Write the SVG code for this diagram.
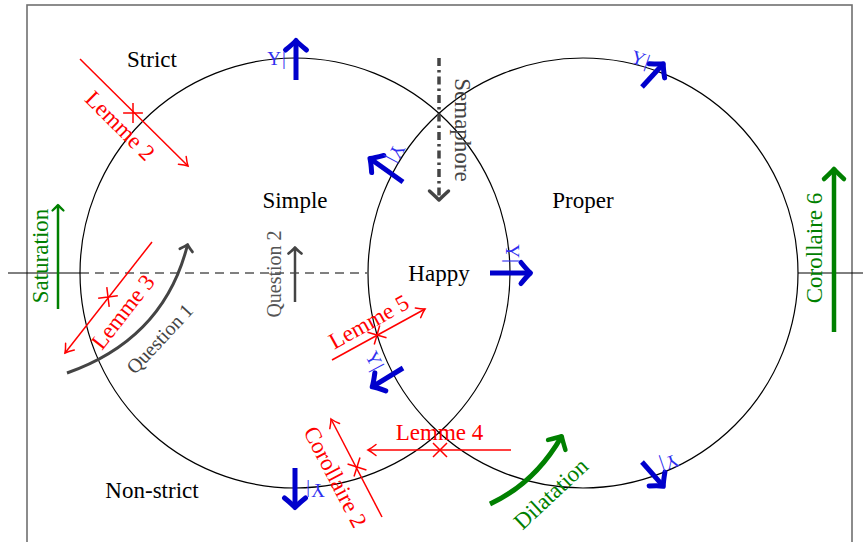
<svg xmlns="http://www.w3.org/2000/svg" xmlns:xlink="http://www.w3.org/1999/xlink" width="863" height="542" viewBox="0 0 863 542">
<style>
.lbl{font-family:"Liberation Serif","Times New Roman",serif;font-size:23px;fill:#000}
.red{fill:#ff0000}
.grn{fill:#008000}
.gry{fill:#444}
.gq{font-size:20px}
.tag{font-family:"Liberation Serif","DejaVu Serif",serif;font-size:19px;fill:#3030f0;letter-spacing:1px}
.circ{fill:none;stroke:#000;stroke-width:1.2}
.rl{fill:none;stroke:#ff0000;stroke-width:1.5}
.bl{fill:none;stroke:#0000cc;stroke-width:5;marker-end:url(#mBlue)}
.cr{fill:none;stroke:#ff0000;stroke-width:1.5}
</style>
<defs>
<marker id="mBlue" markerUnits="userSpaceOnUse" viewBox="-20 -20 40 40" markerWidth="40" markerHeight="40" refX="0" refY="0" orient="auto">
<path d="M-9.5,-10.5 Q-3,-2.5 0,0 Q-3,2.5 -9.5,10.5" fill="none" stroke="#0000cc" stroke-width="5" stroke-linecap="round" stroke-linejoin="round"/>
</marker>
<marker id="mGreenL" markerUnits="userSpaceOnUse" viewBox="-20 -20 40 40" markerWidth="40" markerHeight="40" refX="0" refY="0" orient="auto">
<path d="M-10,-10 Q-3,-2.5 0,0 Q-3,2.5 -10,10" fill="none" stroke="#008000" stroke-width="4.5" stroke-linecap="round" stroke-linejoin="round"/>
</marker>
<marker id="mGreenS" markerUnits="userSpaceOnUse" viewBox="-20 -20 40 40" markerWidth="40" markerHeight="40" refX="0" refY="0" orient="auto">
<path d="M-5.5,-5.5 Q-1.5,-1.2 0,0 Q-1.5,1.2 -5.5,5.5" fill="none" stroke="#008000" stroke-width="2.2" stroke-linecap="round" stroke-linejoin="round"/>
</marker>
<marker id="mGray" markerUnits="userSpaceOnUse" viewBox="-20 -20 40 40" markerWidth="40" markerHeight="40" refX="0" refY="0" orient="auto">
<path d="M-6,-6.5 Q-2,-1.5 0,0 Q-2,1.5 -6,6.5" fill="none" stroke="#444" stroke-width="2.8" stroke-linecap="round" stroke-linejoin="round"/>
</marker>
<marker id="mSema" markerUnits="userSpaceOnUse" viewBox="-20 -20 40 40" markerWidth="40" markerHeight="40" refX="0" refY="0" orient="auto">
<path d="M-9,-9.5 Q-2.5,-2.5 0,0 Q-2.5,2.5 -9,9.5" fill="none" stroke="#444" stroke-width="3.5" stroke-linecap="round" stroke-linejoin="round"/>
</marker>
<marker id="mRed" markerUnits="userSpaceOnUse" viewBox="-20 -20 40 40" markerWidth="40" markerHeight="40" refX="0" refY="0" orient="auto">
<path d="M-8,-5.5 Q-3,-1.5 0,0 Q-3,1.5 -8,5.5" fill="none" stroke="#ff0000" stroke-width="1.5" stroke-linecap="round"/>
</marker>
<path id="cross" d="M-7,-7 L7,7 M-7,7 L7,-7"/>
</defs>

<rect x="27" y="5" width="825" height="600" fill="none" stroke="#707070" stroke-width="1.6"/>

<g id="axis">
<line x1="8" y1="273" x2="80" y2="273" stroke="#000" stroke-width="1"/>
<line x1="80" y1="273" x2="367" y2="273" stroke="#000" stroke-width="1" stroke-dasharray="9 6"/>
<line x1="798" y1="273" x2="863" y2="273" stroke="#000" stroke-width="1"/>
</g>

<g id="circle-left"><circle class="circ" cx="295" cy="273" r="215"/></g>
<g id="circle-right"><circle class="circ" cx="583" cy="273" r="215"/></g>

<g id="node-strict"><text class="lbl" x="152" y="67" text-anchor="middle">Strict</text></g>
<g id="node-simple"><text class="lbl" x="295" y="208" text-anchor="middle">Simple</text></g>
<g id="node-proper"><text class="lbl" x="583" y="208" text-anchor="middle">Proper</text></g>
<g id="node-happy"><text class="lbl" x="439" y="281" text-anchor="middle">Happy</text></g>
<g id="node-nonstrict"><text class="lbl" x="152" y="498" text-anchor="middle">Non-strict</text></g>

<g id="connectors">
<!-- blue radial arrows -->
<line class="bl" x1="296" y1="80" x2="296" y2="40.5"/>
<line class="bl" x1="403" y1="182" x2="370" y2="158.5"/>
<line class="bl" x1="490" y1="273" x2="530.5" y2="273"/>
<line class="bl" x1="295" y1="468" x2="295" y2="507.5"/>
<line class="bl" x1="642" y1="87" x2="663.3" y2="63.8"/>
<line class="bl" x1="642" y1="462" x2="663.3" y2="486.2"/>
<line class="bl" x1="403" y1="368" x2="372.2" y2="386.8"/>

<g class="tag" text-anchor="middle">
<text transform="translate(277,59) rotate(0)" dy="0.34em">Υ|</text>
<text transform="translate(396,154) rotate(118)" dy="0.34em">Υ|</text>
<text transform="translate(512,254) rotate(90)" dy="0.34em">Υ|</text>
<text transform="translate(315,490) rotate(180)" dy="0.34em">Υ|</text>
<text transform="translate(641,59) rotate(19)" dy="0.34em">Υ|</text>
<text transform="translate(669,463) rotate(161)" dy="0.34em">Υ|</text>
<text transform="translate(375,361) rotate(62)" dy="0.34em">Υ|</text>
</g>

<!-- red lemma arrows -->
<line class="rl" x1="80" y1="59" x2="188" y2="166" marker-end="url(#mRed)"/>
<line class="rl" x1="152" y1="242" x2="65" y2="353" marker-end="url(#mRed)"/>
<line class="rl" x1="332" y1="360" x2="425" y2="309" marker-end="url(#mRed)"/>
<line class="rl" x1="511" y1="450" x2="368" y2="450" marker-end="url(#mRed)"/>
<line class="rl" x1="382" y1="517" x2="331" y2="419" marker-end="url(#mRed)"/>
<g class="cr">
<use xlink:href="#cross" transform="translate(133,113) rotate(45)"/>
<use xlink:href="#cross" transform="translate(108,297) rotate(128)"/>
<use xlink:href="#cross" transform="translate(377,335) rotate(-29)"/>
<use xlink:href="#cross" transform="translate(440,450)"/>
<use xlink:href="#cross" transform="translate(357,467) rotate(-117.5)"/>
</g>
<g class="lbl red" text-anchor="middle">
<text transform="translate(120,126) rotate(45)" dy="0.32em">Lemme 2</text>
<text transform="translate(123,312) rotate(-52)" dy="0.32em">Lemme 3</text>
<text transform="translate(369,322) rotate(-29)" dy="0.32em">Lemme 5</text>
<text x="439.5" y="440">Lemme 4</text>
<text transform="translate(335,477) rotate(62.5)" dy="0.32em">Corollaire 2</text>
</g>

<!-- gray arrows -->
<path d="M67,373 Q164,339 187.6,244.5" fill="none" stroke="#444" stroke-width="3" marker-end="url(#mGray)"/>
<line x1="295" y1="302" x2="295" y2="247.5" stroke="#444" stroke-width="2.5" marker-end="url(#mGray)"/>
<line x1="439" y1="58" x2="439" y2="200" stroke="#444" stroke-width="3.5" stroke-dasharray="8 4 2.5 4" marker-end="url(#mSema)"/>
<g class="lbl gry" text-anchor="middle">
<text class="gq" transform="translate(160,339) rotate(-47)" dy="0.32em">Question 1</text>
<text class="gq" transform="translate(275,274) rotate(-90)" dy="0.32em" fill="#555">Question 2</text>
<text transform="translate(462,130) rotate(90)" dy="0.32em">Semaphore</text>
</g>

<!-- green arrows -->
<line x1="58" y1="309" x2="58" y2="205" stroke="#008000" stroke-width="2.5" marker-end="url(#mGreenS)"/>
<line x1="834" y1="332" x2="834" y2="169" stroke="#008000" stroke-width="4.5" marker-end="url(#mGreenL)"/>
<path d="M490,504 Q535,483 561.7,436.2" fill="none" stroke="#008000" stroke-width="5" marker-end="url(#mGreenL)"/>
<g class="lbl grn" text-anchor="middle">
<text transform="translate(41,256) rotate(-90)" dy="0.32em">Saturation</text>
<text transform="translate(815,248) rotate(-90)" dy="0.32em">Corollaire 6</text>
<text transform="translate(551,494) rotate(-43)" dy="0.32em">Dilatation</text>
</g>
</g>
</svg>
